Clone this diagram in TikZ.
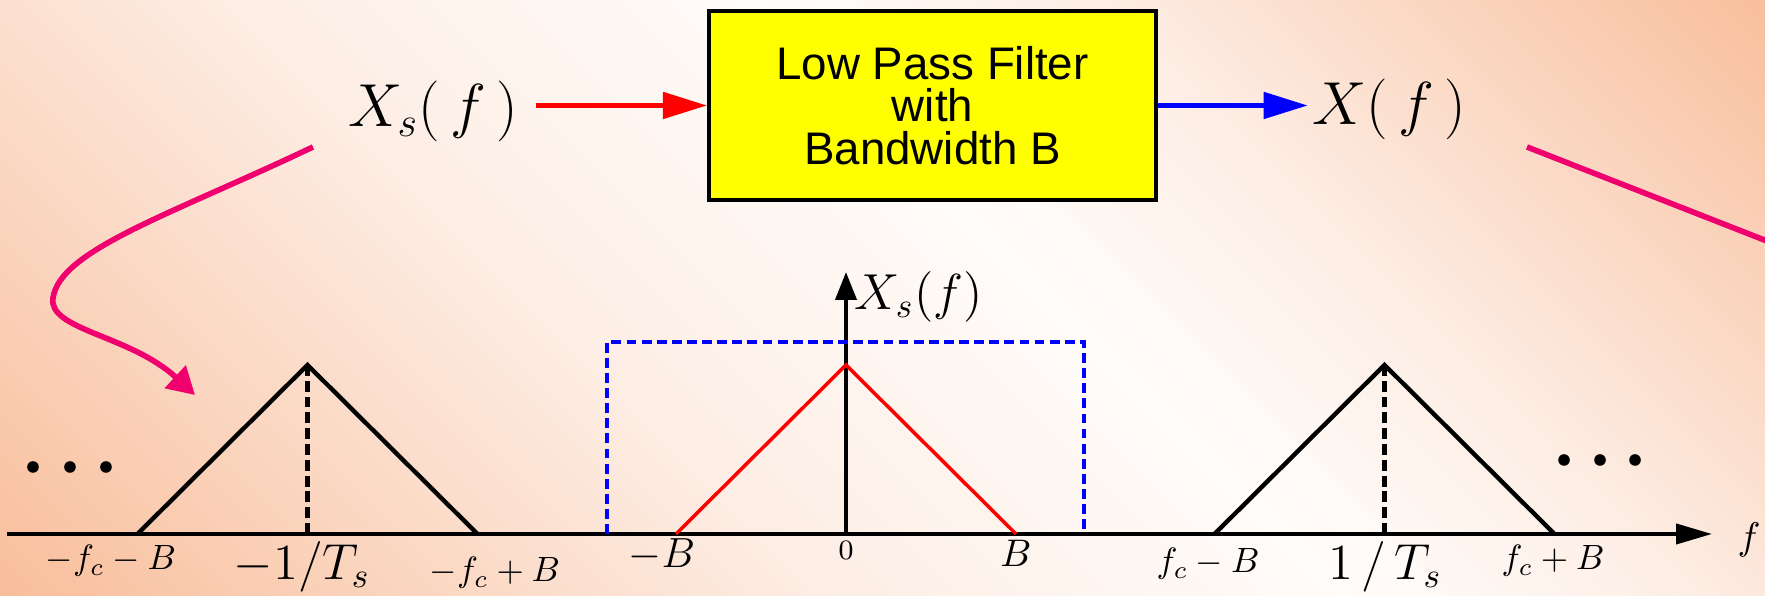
\documentclass[tikz,border=0pt]{standalone}
\usepackage{fontspec}
\setsansfont{Liberation Sans}
\usepackage{tikz}
\usetikzlibrary{arrows.meta,calc}
\definecolor{FilterYellow}{RGB}{255,255,0}
\definecolor{PointerPink}{RGB}{240,0,110}
\definecolor{BgPeach}{RGB}{248,188,152}
\definecolor{BgCream}{RGB}{253,238,229}
\definecolor{BgWhite}{RGB}{255,252,250}

\begin{document}
\begin{tikzpicture}[
    lpfbox/.style={draw, line width=1.15pt, fill=FilterYellow, minimum width=4.47cm,
      minimum height=1.89cm, align=center, font=\sffamily\fontsize{13}{12.1}\selectfont},
    siglabel/.style={inner sep=0pt, anchor=base, font=\fontsize{17}{20}\selectfont},
    ticklabel/.style={inner sep=0pt, anchor=base},
    sigarrow/.style={line width=1.4pt, -{Triangle[length=0.44cm,width=0.26cm]}},
    axisline/.style={line width=1.15pt},
    spectrum/.style={line width=1.25pt},
    centerline/.style={line width=1.6pt, dash pattern=on 3.1pt off 1.4pt},
    filterline/.style={blue, line width=1pt, dash pattern=on 2.8pt off 1.5pt},
    pointer/.style={PointerPink, line width=1.6pt}
  ]
  \useasboundingbox (-8.46,-0.62) rectangle (9.19,5.34);

  % Background
  \coordinate (bgc) at (0.365,2.36);
  \begin{scope}[transform canvas={rotate around={45:(bgc)}}]
    \shade[left color=BgPeach, right color=BgCream] ($(bgc)+(-8.6,-9)$) rectangle ($(bgc)+(-2.4,9)$);
    \shade[left color=BgCream, right color=BgWhite] ($(bgc)+(-2.42,-9)$) rectangle ($(bgc)+(1.2,9)$);
    \shade[left color=BgWhite, right color=BgCream] ($(bgc)+(1.18,-9)$) rectangle ($(bgc)+(3.6,9)$);
    \shade[left color=BgCream, right color=BgPeach] ($(bgc)+(3.58,-9)$) rectangle ($(bgc)+(8.6,9)$);
    \fill[white, opacity=0.35] ($(bgc)+(1.6,-9)$) rectangle ($(bgc)+(1.9,9)$);
  \end{scope}

  % Filter block
  \node[lpfbox] (lpf) at (0.865,4.285) {Low Pass Filter\\with\\Bandwidth B};
  \node[siglabel] (xs) at (-4.13,4.07) {$X_{s}(\,f\,)$};
  \node[siglabel] (x) at (5.43,4.09) {$X(\,f\,)$};
  \draw[sigarrow, red, shorten <=0.17cm] (xs.east |- lpf.west) -- (lpf.west);
  \draw[sigarrow, blue, shorten >=0.04cm] (lpf.east) -- (lpf.east -| x.west);

  % Pointers
  \coordinate (curvestart) at (-5.33,3.87);
  \coordinate (curveend) at (-6.51,1.39);
  \draw[pointer, -{Triangle[length=0.27cm,width=0.3cm]}] (curvestart)
    .. controls (-6.76,3.19) and (-7.86,2.84) .. (-7.93,2.36)
    .. controls (-7.98,2.04) and (-7.16,1.99) .. (curveend);
  \coordinate (linestart) at (6.81,3.87);
  \coordinate (lineend) at (9.54,2.80);
  \draw[pointer] (linestart) -- (lineend);

  % Axes
  \draw[axisline, -{Triangle[length=0.36cm,width=0.2cm]}] (-8.39,0) -- (8.66,0);
  \draw[axisline, -{Triangle[length=0.28cm,width=0.21cm]}] (0,0) -- (0,2.62);
  \node[ticklabel, anchor=base west, font=\fontsize{14}{16}\selectfont] (xsaxis) at (0.08,2.24) {$X_s(f)$};
  \node[ticklabel, font=\fontsize{11}{13}\selectfont] (faxis) at (9.03,-0.16) {$f$};

  % Filter response
  \draw[filterline] (-2.39,0) -- (-2.39,1.92) -- (2.38,1.92) -- (2.38,0);

  % Spectrum copies
  \draw[spectrum, red, line width=1pt] (-1.7,0) -- (0,1.69) -- (1.7,0);
  \foreach \c in {-5.385,5.385} {
    \draw[spectrum] (\c-1.7,0) -- (\c,1.69) -- (\c+1.7,0);
    \draw[centerline] (\c,0) -- (\c,1.69);
  }

  % Dots
  \foreach \x in {-8.13,-7.76,-7.40} \fill (\x,0.67) circle (0.058);
  \foreach \x in {7.18,7.54,7.89} \fill (\x,0.74) circle (0.058);

  % Frequency labels
  \node[ticklabel, font=\fontsize{10}{12}\selectfont] (lo1) at (-7.35,-0.36) {$-f_c-B$};
  \node[ticklabel, font=\fontsize{14}{16}\selectfont] (lo2) at (-5.44,-0.46) {$-1/T_s$};
  \node[ticklabel, font=\fontsize{10}{12}\selectfont] (lo3) at (-3.51,-0.48) {$-f_c+B$};
  \node[ticklabel, font=\fontsize{12}{14}\selectfont] (mb1) at (-1.84,-0.34) {$-B$};
  \node[ticklabel, font=\fontsize{8}{10}\selectfont] (zero) at (0,-0.26) {$0$};
  \node[ticklabel, font=\fontsize{11}{13}\selectfont] (mb2) at (1.70,-0.33) {$B$};
  \node[ticklabel, font=\fontsize{10}{12}\selectfont] (hi1) at (3.62,-0.39) {$f_c-B$};
  \node[ticklabel, font=\fontsize{14}{16}\selectfont] (hi2) at (5.39,-0.46) {$1\,/\,T_s$};
  \node[ticklabel, font=\fontsize{10}{12}\selectfont] (hi3) at (7.07,-0.36) {$f_c+B$};
\end{tikzpicture}
\end{document}
